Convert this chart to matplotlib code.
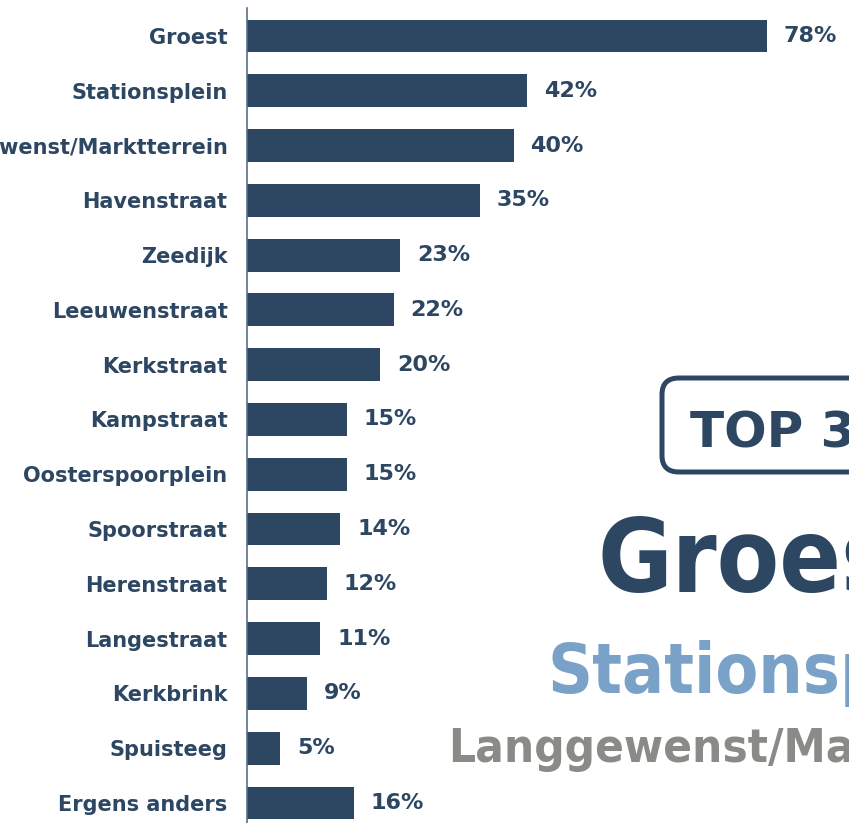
import matplotlib.pyplot as plt
from matplotlib import font_manager
from matplotlib.patches import FancyBboxPatch

locaties = ['Groest', 'Stationsplein', 'Langgewenst/Marktterrein', 'Havenstraat',
            'Zeedijk', 'Leeuwenstraat', 'Kerkstraat', 'Kampstraat',
            'Oosterspoorplein', 'Spoorstraat', 'Herenstraat', 'Langestraat',
            'Kerkbrink', 'Spuisteeg', 'Ergens anders']
percentages = [78, 42, 40, 35, 23, 22, 20, 15, 15, 14, 12, 11, 9, 5, 16]
top3 = ['Groest', 'Stationsplein', 'Langgewenst/Marktterrein']

navy = '#2D4763'
lichtblauw = '#7AA2C8'
grijs = '#8A8A87'

# find a condensed bold face for the big "top 3" words, if one is installed
fonts = font_manager.fontManager.ttflist
narrow = None
for f in fonts:
    if f.name == 'Liberation Sans Narrow':
        narrow = dict(family='Liberation Sans Narrow', fontweight='bold')
        break
if narrow is None:
    for f in fonts:
        if f.name == 'DejaVu Sans' and f.stretch == 'condensed':
            narrow = dict(family='DejaVu Sans', fontstretch='condensed', fontweight='bold')
            break
if narrow is None:
    narrow = dict(family='Roboto', fontweight='black')

W, H = 849, 823
fig = plt.figure(figsize=(W / 100, H / 100), dpi=100)

ax = fig.add_axes([247 / W, 0, 1 - 247 / W, (H - 8) / H])
ypos = list(range(len(locaties)))
ax.barh(ypos, percentages, height=0.6, color=navy)
ax.set_xlim(0, (W - 247) / 6.667)
ax.set_ylim(14.365, -0.51)

ax.set_yticks(ypos)
ax.set_yticklabels(locaties, fontsize=15, fontweight='bold', color=navy)
ax.tick_params(axis='y', length=0, pad=14)
ax.set_xticks([])
for side in ['top', 'right', 'bottom']:
    ax.spines[side].set_visible(False)
ax.spines['left'].set_color('#5A6E85')
ax.spines['left'].set_linewidth(1.2)

for y, p in zip(ypos, percentages):
    ax.annotate(f'{p}%', (p, y), xytext=(12, 0), textcoords='offset points',
                va='center', ha='left', fontsize=16, fontweight='bold', color=navy)

# "TOP 3" box
box = FancyBboxPatch((662 / W, (H - 472) / H), 0.5, (472 - 378) / H,
                     boxstyle='round,pad=0,rounding_size=0.02',
                     transform=fig.transFigure, fill=False,
                     edgecolor=navy, linewidth=3.6, clip_on=False)
fig.patches.append(box)
fig.text(690 / W, (H - 447) / H, 'TOP 3', fontsize=36, fontweight='bold',
         color=navy, ha='left', va='baseline')

fig.text(597 / W, (H - 592) / H, top3[0], fontsize=73, color=navy,
         ha='left', va='baseline', **narrow)
fig.text(547 / W, (H - 693) / H, top3[1], fontsize=50, color=lichtblauw,
         ha='left', va='baseline', **narrow)
fig.text(448 / W, (H - 762) / H, top3[2], fontsize=34, color=grijs,
         ha='left', va='baseline', **narrow)

fig.savefig('out.png', dpi=100)
